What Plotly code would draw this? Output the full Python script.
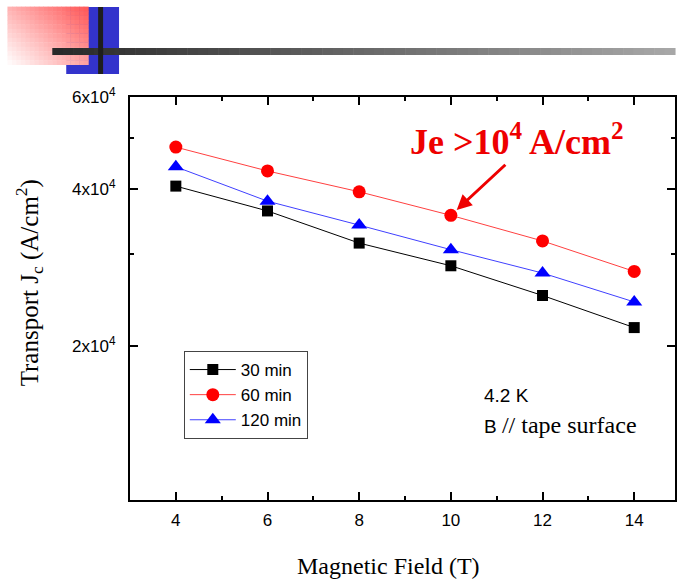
import plotly.graph_objects as go
import math

# ---- data ----
field = [4, 6, 8, 10, 12, 14]
jc_30 = [40500, 36300, 31500, 28500, 25000, 21700]
jc_60 = [48100, 43300, 39500, 35600, 31800, 27800]
jc_120 = [44100, 37900, 34100, 30600, 27600, 24300]
series_names = ["30 min", "60 min", "120 min"]
y_tickvals = [20000, 40000, 60000]
y_ticktext = ["2x10<sup>4</sup>", "4x10<sup>4</sup>", "6x10<sup>4</sup>"]
x_tickvals = [4, 6, 8, 10, 12, 14]

W, H = 677, 582
ML, MR, MT, MB = 130, 0, 97, 82
PW, PH = W - ML - MR, H - MT - MB

def px(x):
    return (x - ML) / PW

def py(y):
    return (H - MB - y) / PH

fig = go.Figure()
fig.add_trace(go.Scatter(x=field, y=jc_30, name=series_names[0], mode="lines+markers",
                         line=dict(color="black", width=1),
                         marker=dict(symbol="square", size=11, color="black")))
fig.add_trace(go.Scatter(x=field, y=jc_60, name=series_names[1], mode="lines+markers",
                         line=dict(color="#ff4040", width=1),
                         marker=dict(symbol="circle", size=13, color="#ff0000")))
fig.add_trace(go.Scatter(x=field, y=jc_120, name=series_names[2], mode="lines+markers",
                         line=dict(color="#4040ff", width=1),
                         marker=dict(symbol="triangle-up", size=14, color="#0000ff")))

shapes = []
# header decoration: blue block
shapes.append(dict(type="rect", xref="paper", yref="paper", x0=px(66), x1=px(119), y0=py(74), y1=py(7),
                   fillcolor="#3333cc", line=dict(width=0), layer="above"))
# pink diagonal gradient square
nx, ny = 18, 13
x0p, x1p, y0p, y1p = 7, 88, 7, 65
for i in range(nx):
    for j in range(ny):
        ax0 = x0p + (x1p - x0p) * i / nx
        ax1 = x0p + (x1p - x0p) * (i + 1) / nx
        ay0 = y0p + (y1p - y0p) * j / ny
        ay1 = y0p + (y1p - y0p) * (j + 1) / ny
        t = 0.55 * (i + 0.5) / nx + 0.45 * (1 - (j + 0.5) / ny)
        t = max(0.0, min(1.0, t))
        g = int(round(255 - (255 - 85) * t))
        shapes.append(dict(type="rect", xref="paper", yref="paper", x0=px(ax0), x1=px(ax1) + 0.001,
                           y0=py(ay1), y1=py(ay0) + 0.001,
                           fillcolor=f"rgb(255,{g},{g})", line=dict(width=0), layer="above"))
# horizontal gradient bar
nb = 60
for k in range(nb):
    bx0 = 52 + (677 - 52) * k / nb
    bx1 = 52 + (677 - 52) * (k + 1) / nb
    t = (k + 0.5) / nb
    c = int(round(40 + (168 - 40) * t))
    shapes.append(dict(type="rect", xref="paper", yref="paper", x0=px(bx0), x1=px(bx1) + 0.001,
                       y0=py(55), y1=py(48), fillcolor=f"rgb({c},{c},{c})", line=dict(width=0), layer="above"))
# black vertical bar
shapes.append(dict(type="rect", xref="paper", yref="paper", x0=px(98), x1=px(103), y0=py(74), y1=py(7),
                   fillcolor="#1e1e1e", line=dict(width=0), layer="above"))

serif = "Liberation Serif, Times New Roman, serif"
sans = "Liberation Sans, Arial, sans-serif"

annotations = [
    dict(xref="paper", yref="paper", x=px(29), y=py(283), xanchor="center", yanchor="middle",
         text="Transport J<sub>c</sub> (A/cm<sup>2</sup>)",
         textangle=-90, showarrow=False, font=dict(family=serif, size=25, color="black")),
    dict(xref="paper", yref="paper", x=px(389), y=py(566), xanchor="center", yanchor="middle",
         text="Magnetic Field (T)",
         showarrow=False, font=dict(family=serif, size=24, color="black")),
    dict(xref="paper", yref="paper", x=px(518), y=py(139), xanchor="center", yanchor="middle",
         text="<b>Je &gt;10<sup>4</sup> A/cm<sup>2</sup></b>",
         showarrow=False, font=dict(family=serif, size=36, color="#ee0000")),
    dict(x=10, y=math.log10(35600), xref="x", yref="y", text="", showarrow=True,
         ax=56, ay=-52, arrowhead=2, arrowsize=1, arrowwidth=3, arrowcolor="#ee0000", standoff=8),
    dict(xref="paper", yref="paper", x=px(483), y=py(395), xanchor="left", yanchor="middle", text="4.2 K",
         showarrow=False, font=dict(family=sans, size=19, color="black")),
    dict(xref="paper", yref="paper", x=px(483), y=py(425), xanchor="left", yanchor="middle",
         text="B <span style='font-family:Liberation Serif; font-size:24px'>// tape surface</span>",
         showarrow=False, font=dict(family=sans, size=19, color="black")),
]

fig.update_layout(
    width=W, height=H,
    margin=dict(l=ML, r=MR, t=MT, b=MB, pad=0),
    paper_bgcolor="white", plot_bgcolor="white",
    font=dict(family=sans, size=16, color="black"),
    showlegend=True,
    legend=dict(x=px(184), y=py(351), xanchor="left", yanchor="top",
                bgcolor="white", bordercolor="#444", borderwidth=1,
                font=dict(family=sans, size=17, color="black"),
                itemwidth=46, tracegroupgap=0),
    shapes=shapes,
    annotations=annotations,
)
fig.update_xaxes(range=[3, 14.89], tickvals=x_tickvals, ticks="inside", ticklen=8, tickwidth=2,
                 tickcolor="black", showline=True, linecolor="black", linewidth=2, mirror="ticks",
                 showgrid=False, zeroline=False, tickfont=dict(family=sans, size=17), ticklabelstandoff=4,
                 minor=dict(tickvals=[5, 7, 9, 11, 13], ticks="inside", ticklen=4, tickwidth=2, tickcolor="black"))
fig.update_yaxes(type="log", range=[4.0062, math.log10(60000)], tickvals=y_tickvals, ticktext=y_ticktext,
                 ticks="inside", ticklen=8, tickwidth=2, tickcolor="black", showline=True, linecolor="black",
                 linewidth=2, mirror="ticks", showgrid=False, zeroline=False,
                 tickfont=dict(family=sans, size=17), ticklabelstandoff=9,
                 minor=dict(tickvals=[30000, 50000], ticks="inside", ticklen=4, tickwidth=2, tickcolor="black"))

fig.write_html("out.html", config={"displayModeBar": False},
               post_script="document.body.style.margin='0';document.body.style.overflow='hidden';")
